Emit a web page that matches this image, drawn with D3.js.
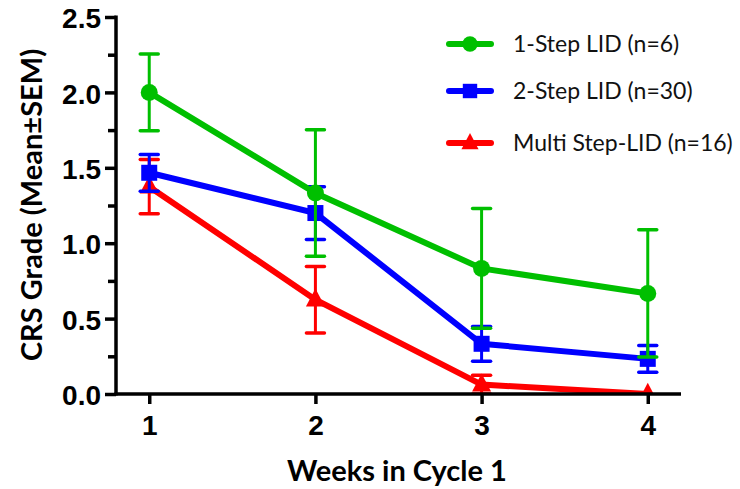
<!DOCTYPE html>
<html>
<head>
<meta charset="utf-8">
<script src="https://cdn.jsdelivr.net/npm/d3@7"></script>
<style>
    body { margin: 0; background: #fff; }
    svg { display: block; }
</style>
</head>
<body>
<svg id="chart" width="740" height="489"></svg>
<script>
    var weeks = [1, 2, 3, 4];

    var series_names = ["1-Step LID (n=6)", "2-Step LID (n=30)", "Multi Step-LID (n=16)"];
    var series_colors = ["#00bf00", "#0000ff", "#ff0000"];
    var series_symbols = ["circle", "square", "triangle"];

    var one_step_mean = [2.0, 1.333, 0.833, 0.667];
    var one_step_sem = [0.255, 0.42, 0.397, 0.422];

    var two_step_mean = [1.467, 1.2, 0.333, 0.233];
    var two_step_sem = [0.122, 0.175, 0.115, 0.088];

    var multi_step_mean = [1.375, 0.625, 0.0625, 0];
    var multi_step_sem = [0.18, 0.22, 0.0625, 0];

    var y_ticks = [0, 0.5, 1.0, 1.5, 2.0, 2.5];
    var y_minor_ticks = [0.25, 0.75, 1.25, 1.75, 2.25];

    var means = [one_step_mean, two_step_mean, multi_step_mean];
    var sems = [one_step_sem, two_step_sem, multi_step_sem];

    var svg = d3.select("#chart");

    var x = d3.scaleLinear().domain([0.8, 4.2]).range([116, 681]);
    var y = d3.scaleLinear().domain([0, 2.5]).range([394, 17]);

    var series = series_names.map(function(name, i) {
        return {
            name: name,
            color: series_colors[i],
            symbol: series_symbols[i],
            points: weeks.map(function(w, j) {
                return {week: w, mean: means[i][j], sem: sems[i][j]};
            })
        };
    });

    svg.append("clipPath")
        .attr("id", "plot_clip")
        .append("rect")
        .attr("x", x.range()[0])
        .attr("y", 0)
        .attr("width", x.range()[1] - x.range()[0] + 20)
        .attr("height", y(0));

    var plot = svg.append("g").attr("clip-path", "url(#plot_clip)");

    function drawMarker(sel, symbol, color, cx, cy, scale) {
        scale = scale || 1;
        if (symbol == "circle") {
            sel.append("circle")
                .attr("cx", cx).attr("cy", cy).attr("r", 8.5 * scale)
                .attr("fill", color);
        } else if (symbol == "square") {
            var s = 16 * scale;
            sel.append("rect")
                .attr("x", cx - s / 2).attr("y", cy - s / 2)
                .attr("width", s).attr("height", s)
                .attr("fill", color);
        } else {
            var w = 19 * scale, h = 18 * scale;
            sel.append("path")
                .attr("d", "M" + cx + "," + (cy - h * 0.62) +
                    "L" + (cx + w / 2) + "," + (cy + h * 0.38) +
                    "L" + (cx - w / 2) + "," + (cy + h * 0.38) + "Z")
                .attr("fill", color);
        }
    }

    var line = d3.line()
        .x(function(d) { return x(d.week); })
        .y(function(d) { return y(d.mean); });

    // red first, green on top
    series.slice().reverse().forEach(function(s) {
        var g = plot.append("g");

        g.append("path")
            .datum(s.points)
            .attr("d", line)
            .attr("fill", "none")
            .attr("stroke", s.color)
            .attr("stroke-width", 6);

        s.points.forEach(function(d) {
            if (d.sem > 0) {
                var cx = x(d.week);
                var y1 = y(d.mean + d.sem), y0 = y(Math.max(0, d.mean - d.sem));
                g.append("line")
                    .attr("x1", cx).attr("x2", cx)
                    .attr("y1", y1).attr("y2", y0)
                    .attr("stroke", s.color).attr("stroke-width", 3);
                [y1, y0].forEach(function(yy) {
                    g.append("line")
                        .attr("x1", cx - 9).attr("x2", cx + 9)
                        .attr("y1", yy).attr("y2", yy)
                        .attr("stroke", s.color).attr("stroke-width", 3.5)
                        .attr("stroke-linecap", "round");
                });
            }
            drawMarker(g, s.symbol, s.color, x(d.week), y(d.mean));
        });
    });

    // axes
    var yAxis = svg.append("g")
        .attr("transform", "translate(" + x.range()[0] + ",0)")
        .call(d3.axisLeft(y).tickValues(y_ticks).tickFormat(d3.format(".1f")).tickSize(11).tickPadding(4));

    svg.append("g")
        .attr("transform", "translate(" + x.range()[0] + ",0)")
        .call(d3.axisLeft(y).tickValues(y_minor_ticks).tickFormat("").tickSize(8))
        .call(function(g) { g.select(".domain").remove(); });

    var xAxis = svg.append("g")
        .attr("transform", "translate(0," + y(0) + ")")
        .call(d3.axisBottom(x).tickValues(weeks).tickFormat(d3.format("d")).tickSize(10).tickPadding(11));

    svg.selectAll(".domain")
        .attr("stroke", "#000")
        .attr("stroke-width", 3.5);
    svg.selectAll(".tick line")
        .attr("stroke", "#000")
        .attr("stroke-width", 3.5);
    svg.selectAll(".tick text")
        .attr("fill", "#000")
        .style("font-family", "'Liberation Sans', Arial, sans-serif")
        .style("font-weight", "bold")
        .style("font-size", "28px");
    yAxis.selectAll(".tick text").attr("dy", "0.38em");
    yAxis.select(".domain").attr("d", "M0," + (y(2.5) - 1.5) + "V" + (y(0) + 1.5));
    xAxis.select(".domain").attr("d", "M" + (x.range()[0] - 1.5) + ",0H" + x.range()[1]);

    // titles
    svg.append("text")
        .attr("x", 397)
        .attr("y", 481)
        .attr("text-anchor", "middle")
        .style("font-family", "Lato, 'Open Sans', sans-serif")
        .style("font-weight", "bold")
        .style("font-size", "29px")
        .text("Weeks in Cycle 1");

    svg.append("text")
        .attr("transform", "translate(42,205) rotate(-90)")
        .attr("text-anchor", "middle")
        .style("font-family", "Lato, 'Open Sans', sans-serif")
        .style("font-weight", "bold")
        .style("font-size", "29px")
        .text("CRS Grade (Mean\u00b1SEM)");

    // legend
    var legend = svg.append("g");
    var legend_y = [44, 91, 143];
    series.forEach(function(s, i) {
        var g = legend.append("g");
        g.append("line")
            .attr("x1", 449).attr("x2", 491)
            .attr("y1", legend_y[i]).attr("y2", legend_y[i])
            .attr("stroke", s.color).attr("stroke-width", 6)
            .attr("stroke-linecap", "round");
        drawMarker(g, s.symbol, s.color, 470, legend_y[i], 0.9);
        g.append("text")
            .attr("x", 513)
            .attr("y", legend_y[i])
            .attr("dy", "0.35em")
            .attr("fill", "#111")
            .style("font-family", "Lato, 'Open Sans', sans-serif")
            .style("font-size", "23px")
            .text(s.name);
    });
</script>
</body>
</html>
